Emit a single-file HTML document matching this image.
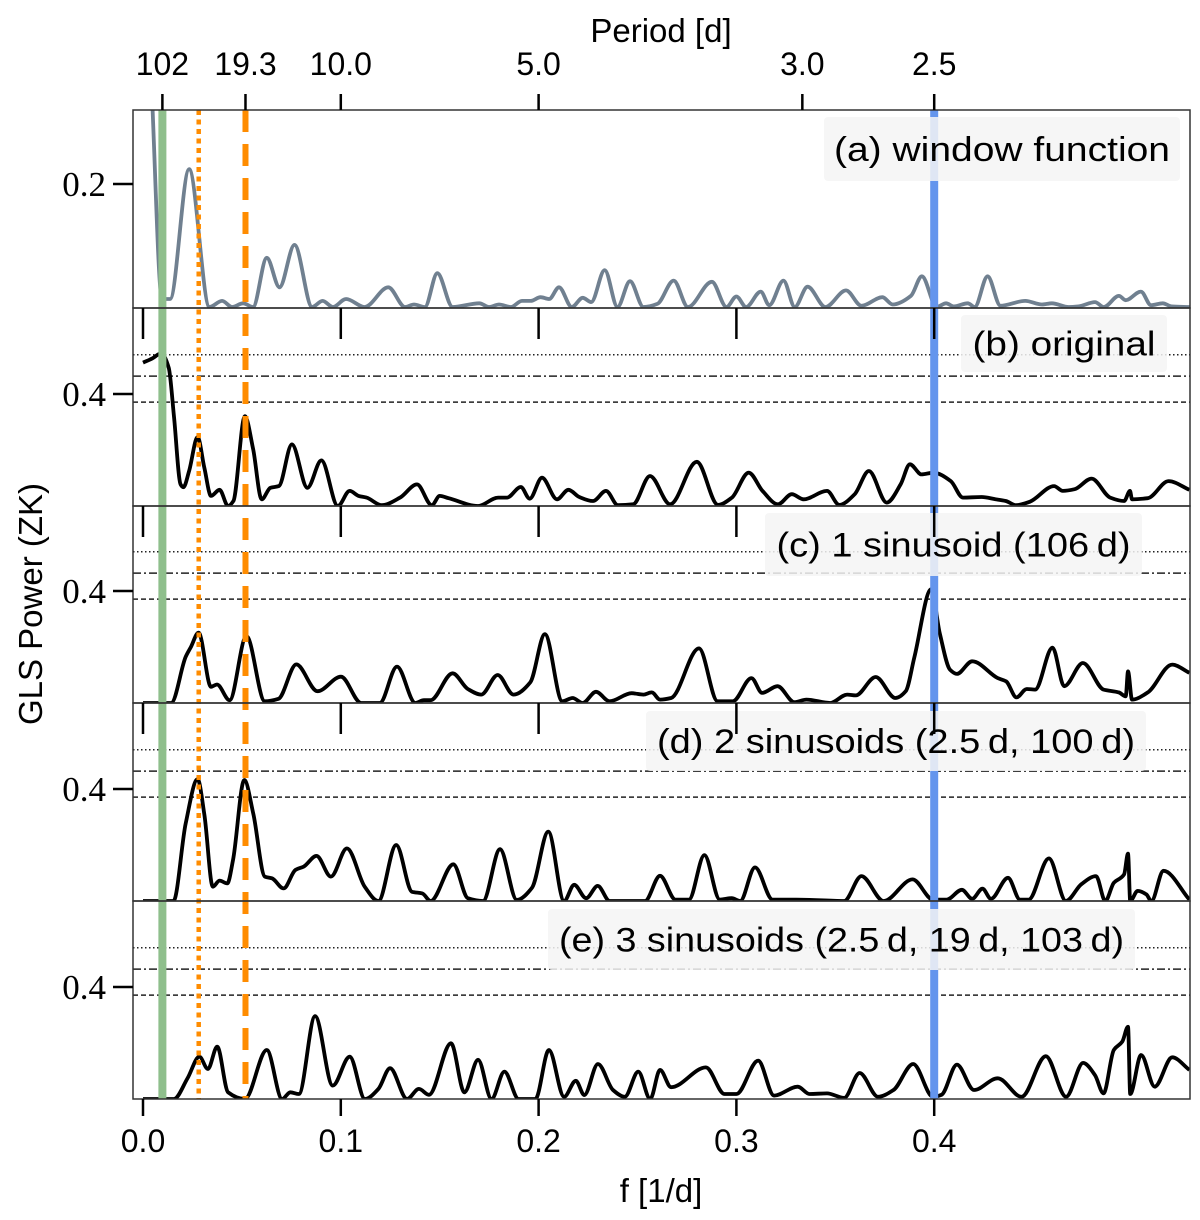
<!DOCTYPE html>
<html><head><meta charset="utf-8"><style>
html,body{margin:0;padding:0;background:#fff;}
svg{display:block;}
text{font-family:"Liberation Sans","DejaVu Sans",sans-serif;fill:#000;}
.serif{font-family:"Liberation Serif",serif;}
</style></head><body>
<svg id="chart" width="1200" height="1220" viewBox="0 0 1200 1220" xmlns="http://www.w3.org/2000/svg">
<defs>
<clipPath id="clip0"><rect x="133" y="110" width="1057" height="198"/></clipPath>
<clipPath id="clip1"><rect x="133" y="308" width="1057" height="198"/></clipPath>
<clipPath id="clip2"><rect x="133" y="506" width="1057" height="197"/></clipPath>
<clipPath id="clip3"><rect x="133" y="703" width="1057" height="198"/></clipPath>
<clipPath id="clip4"><rect x="133" y="901" width="1057" height="198"/></clipPath>
</defs>
<g id="layer-hlines"></g>
<g id="layer-curves"></g>
<g id="layer-vlines"></g>
<g id="layer-legends"></g>
<g id="layer-axes"></g>
</svg>
<script>
// ---------- data ----------
const aF=[0.002,0.0046,0.0096,0.0137,0.0233,0.0336,0.040,0.045,0.0506,0.0556,0.0626,0.069,0.0766,0.0855,0.0908,0.096,0.1027,0.112,0.124,0.1325,0.137,0.1425,0.1488,0.1565,0.170,0.175,0.180,0.186,0.1916,0.196,0.201,0.2053,0.2103,0.2168,0.2223,0.2266,0.2334,0.2399,0.2462,0.253,0.260,0.2683,0.2755,0.2876,0.295,0.300,0.3049,0.3123,0.3166,0.3238,0.3295,0.336,0.345,0.3554,0.3632,0.3738,0.379,0.3882,0.3938,0.4012,0.406,0.410,0.417,0.4205,0.427,0.4335,0.446,0.4545,0.4595,0.468,0.473,0.4813,0.4857,0.4934,0.4968,0.5045,0.5096,0.5155,0.520,0.529];
const aP=[0.55,0.34,0.013,0.013,0.224,0.0,0.01,0.0,0.006,0.0,0.08,0.032,0.101,0.0,0.01,0.0,0.013,0.0,0.032,0.0,0.004,0.0,0.055,0.0,0.006,0.0,0.004,0.0,0.01,0.01,0.016,0.013,0.032,0.0,0.015,0.008,0.06,0.0,0.042,0.0,0.005,0.043,0.0,0.041,0.0,0.017,0.0,0.025,0.003,0.043,0.0,0.033,0.0,0.027,0.002,0.016,0.004,0.018,0.05,0.0,0.006,0.001,0.006,0.0,0.05,0.002,0.01,0.004,0.006,0.0,0.001,0.008,0.0,0.018,0.011,0.025,0.003,0.006,0.001,0.0];

const bF=[0,0.0047,0.0092,0.013,0.0157,0.019,0.0204,0.0233,0.0276,0.031,0.0344,0.0387,0.043,0.0457,0.0515,0.0557,0.060,0.0644,0.0687,0.0753,0.0831,0.0902,0.0985,0.1045,0.109,0.113,0.1207,0.130,0.1385,0.146,0.150,0.1545,0.1694,0.1795,0.184,0.191,0.1955,0.2017,0.2093,0.2151,0.2206,0.2275,0.2341,0.2401,0.2478,0.2563,0.2665,0.28,0.2907,0.2977,0.3062,0.3132,0.321,0.328,0.334,0.3458,0.352,0.3598,0.367,0.376,0.383,0.3877,0.3936,0.3996,0.4084,0.4145,0.424,0.431,0.4362,0.4414,0.4483,0.4606,0.465,0.471,0.4796,0.489,0.496,0.499,0.5,0.508,0.5185,0.529];
const bP=[0.512,0.527,0.545,0.494,0.315,0.077,0.067,0.125,0.246,0.137,0.036,0.058,0.0,0.018,0.321,0.202,0.024,0.065,0.071,0.22,0.065,0.163,0.0,0.054,0.036,0.03,0.003,0.03,0.077,0.003,0.036,0.028,0.0,0.03,0.03,0.068,0.026,0.101,0.024,0.058,0.032,0.018,0.054,0.003,0.006,0.107,0.006,0.158,0.004,0.03,0.119,0.054,0.006,0.042,0.024,0.054,0.004,0.042,0.125,0.012,0.077,0.149,0.113,0.119,0.089,0.03,0.032,0.024,0.018,0.003,0.015,0.071,0.054,0.06,0.098,0.03,0.018,0.054,0.024,0.028,0.089,0.058];

const cF=[0,0.0142,0.0216,0.0242,0.0281,0.0344,0.0374,0.0438,0.0523,0.0616,0.0685,0.0775,0.0882,0.1001,0.1103,0.1197,0.1284,0.1377,0.142,0.1454,0.1565,0.1642,0.171,0.1793,0.1873,0.1958,0.2032,0.212,0.2172,0.2223,0.229,0.2359,0.247,0.253,0.2572,0.2614,0.267,0.2811,0.2905,0.2982,0.3076,0.313,0.3208,0.3293,0.3354,0.3474,0.356,0.3603,0.3704,0.3804,0.3856,0.3899,0.3985,0.4028,0.408,0.4115,0.4192,0.4321,0.4364,0.4416,0.4468,0.451,0.4598,0.4657,0.4752,0.4856,0.4933,0.4968,0.498,0.5,0.508,0.5203,0.529];
const cP=[0,0,0.165,0.2,0.251,0.058,0.066,0.01,0.239,0.006,0.015,0.138,0.042,0.094,0.0,0.0,0.13,0.0,0.01,0.01,0.106,0.05,0.03,0.1,0.03,0.074,0.246,0.006,0.018,0.0,0.04,0.006,0.035,0.03,0.038,0.012,0.018,0.195,0.006,0.006,0.089,0.036,0.06,0.003,0.012,0.0,0.03,0.027,0.093,0.018,0.042,0.161,0.406,0.25,0.119,0.104,0.149,0.089,0.077,0.02,0.05,0.048,0.198,0.06,0.143,0.048,0.038,0.024,0.113,0.012,0.038,0.137,0.108];

const dF=[0,0.0154,0.0216,0.0276,0.031,0.0353,0.0387,0.0426,0.0455,0.0512,0.0558,0.0616,0.0652,0.0711,0.0771,0.0813,0.0877,0.095,0.1031,0.1121,0.119,0.128,0.136,0.1412,0.1454,0.1569,0.1642,0.1719,0.1805,0.189,0.1967,0.2049,0.2129,0.218,0.224,0.2299,0.2359,0.2538,0.2614,0.2692,0.276,0.2838,0.2916,0.2976,0.3019,0.3094,0.3183,0.3303,0.3545,0.3632,0.3744,0.3891,0.3994,0.4063,0.414,0.4192,0.4244,0.4287,0.4373,0.4434,0.4477,0.458,0.4666,0.4744,0.4818,0.4865,0.4908,0.496,0.498,0.4991,0.5029,0.5072,0.5098,0.5159,0.529];
const dP=[0,0,0.277,0.435,0.31,0.051,0.073,0.063,0.146,0.432,0.31,0.087,0.081,0.045,0.111,0.123,0.161,0.087,0.188,0.051,0.0,0.2,0.033,0.027,0.0,0.131,0.01,0.0,0.185,0.004,0.048,0.248,0.0,0.058,0.01,0.054,0.0,0.0,0.09,0.005,0.005,0.164,0.005,0.01,0.0,0.12,0.005,0.005,0.0,0.089,0.0,0.077,0.005,0.005,0.04,0.008,0.044,0.008,0.083,0.005,0.005,0.152,0.0,0.06,0.089,0.0,0.065,0.095,0.169,0.0,0.036,0.024,0.0,0.108,0.005];

const eF=[0,0.0156,0.0225,0.0285,0.0328,0.0375,0.043,0.0515,0.0626,0.0703,0.0745,0.0788,0.087,0.0959,0.1045,0.1122,0.119,0.1249,0.1335,0.1395,0.1446,0.1557,0.1625,0.1694,0.1762,0.1827,0.1899,0.1984,0.2052,0.2129,0.2188,0.2231,0.23,0.2376,0.2436,0.2504,0.2564,0.2614,0.267,0.2846,0.294,0.300,0.311,0.319,0.331,0.337,0.3458,0.3545,0.3623,0.3716,0.3794,0.3894,0.3994,0.4037,0.4115,0.4201,0.4321,0.4442,0.4564,0.4667,0.4753,0.4813,0.4856,0.4908,0.4951,0.498,0.4991,0.5046,0.5115,0.5203,0.529];
const eP=[0,0,0.074,0.151,0.107,0.187,0.024,0.0,0.175,0.0,0.024,0.018,0.296,0.048,0.151,0.0,0.036,0.11,0.0,0.036,0.015,0.199,0.024,0.14,0.0,0.098,0.0,0.0,0.175,0.008,0.065,0.014,0.125,0.032,0.008,0.098,0.0,0.104,0.042,0.113,0.018,0.018,0.137,0.012,0.044,0.018,0.02,0.004,0.093,0.008,0.032,0.125,0.008,0.015,0.123,0.032,0.074,0.008,0.153,0.008,0.129,0.085,0.02,0.175,0.205,0.258,0.018,0.157,0.044,0.149,0.104];

const fapLevels=[0.54,0.464,0.371];
const bottomTicks=[0,0.1,0.2,0.3,0.4];
const bottomLabels=["0.0","0.1","0.2","0.3","0.4"];
const periodTicks=[102,19.3,10.0,5.0,3.0,2.5];
const periodLabels=["102","19.3","10.0","5.0","3.0","2.5"];
const markerGreen=1/102, markerDotted=1/35.5, markerDashed=1/19.3, markerBlue=0.4;

// ---------- scales ----------
const X0=143, XS=1978, LEFT=133, RIGHT=1190;
function xs(f){return X0+f*XS;}
const panelTops=[110,308,506,703,901];
const panelBottoms=[308,506,703,901,1099];
function yA(v){return 307-v*615;}
function yP(i,v){return panelBottoms[i]-v*280;}

const NS="http://www.w3.org/2000/svg";
function mk(tag,attrs,parent){const e=document.createElementNS(NS,tag);for(const k in attrs)e.setAttribute(k,attrs[k]);parent.appendChild(e);return e;}
// monotone cubic (Fritsch-Carlson) – no overshoot
function smooth(pts){
  const n=pts.length, dx=[], s=[], m=[];
  for(let i=0;i<n-1;i++){dx[i]=pts[i+1][0]-pts[i][0];s[i]=(pts[i+1][1]-pts[i][1])/dx[i];}
  m[0]=s[0];m[n-1]=s[n-2];
  for(let i=1;i<n-1;i++){
    if(s[i-1]*s[i]<=0)m[i]=0;
    else{const w1=2*dx[i]+dx[i-1],w2=dx[i]+2*dx[i-1];m[i]=(w1+w2)/(w1/s[i-1]+w2/s[i]);}
  }
  let d="M"+pts[0][0].toFixed(1)+","+pts[0][1].toFixed(1);
  for(let i=0;i<n-1;i++){
    const h=dx[i]/3;
    d+=" C"+(pts[i][0]+h).toFixed(1)+","+(pts[i][1]+m[i]*h).toFixed(1)+" "+(pts[i+1][0]-h).toFixed(1)+","+(pts[i+1][1]-m[i+1]*h).toFixed(1)+" "+pts[i+1][0].toFixed(1)+","+pts[i+1][1].toFixed(1);
  }
  return d;
}
const gH=document.getElementById('layer-hlines');
const gC=document.getElementById('layer-curves');
const gV=document.getElementById('layer-vlines');
const gL=document.getElementById('layer-legends');
const gX=document.getElementById('layer-axes');

// horizontal FAP lines
const dashes=["1.5,2.5","8,3,2,3","5,3"];
for(let i=1;i<5;i++){
  fapLevels.forEach((lv,j)=>{
    const l=mk('line',{x1:LEFT,x2:RIGHT,y1:yP(i,lv),y2:yP(i,lv),stroke:'#222','stroke-width':1.5,'stroke-dasharray':dashes[j]},gH);
    
    
  });
}

// curves
function curve(F,P,yfn,color,clip,name){
  const pts=F.map((f,k)=>[xs(f),yfn(P[k])]);
  const p=mk('path',{d:smooth(pts),fill:'none',stroke:color,'stroke-width':3.8,'stroke-linejoin':'round','clip-path':clip},gC);
  
  
}
curve(aF,aP,yA,'#708090','url(#clip0)','window-function-curve');
curve(bF,bP,v=>yP(1,v),'#000','url(#clip1)','original-periodogram-curve');
curve(cF,cP,v=>yP(2,v),'#000','url(#clip2)','one-sinusoid-residual-curve');
curve(dF,dP,v=>yP(3,v),'#000','url(#clip3)','two-sinusoid-residual-curve');
curve(eF,eP,v=>yP(4,v),'#000','url(#clip4)','three-sinusoid-residual-curve');

// vertical markers
function vline(f,color,w,dash,name){
  const a={x1:xs(f),x2:xs(f),y1:110,y2:1099,stroke:color,'stroke-width':w};
  if(dash)a['stroke-dasharray']=dash;
  const l=mk('line',a,gV);
  
  
}
vline(markerGreen,'#8fbf8c',8,null,'marker-102d');
vline(markerDotted,'#ff8c00',4.5,'5,4.5','marker-35d-alias');
vline(markerDashed,'#ff8c00',6,'22,12','marker-19d');
vline(markerBlue,'#6495ed',8,null,'marker-2-5d');

// legends
const legends=[
  {t:"(a) window function",x:824,y:117,w:356,h:64,tl:336,name:'legend-window-function'},
  {t:"(b) original",x:961,y:315,w:206,h:57,tl:183,name:'legend-original'},
  {t:"(c) 1 sinusoid (106\u2009d)",x:765,y:513,w:377,h:63,tl:354,name:'legend-one-sinusoid'},
  {t:"(d) 2 sinusoids (2.5\u2009d, 100\u2009d)",x:646,y:711,w:500,h:60,tl:478,name:'legend-two-sinusoids'},
  {t:"(e) 3 sinusoids (2.5\u2009d, 19\u2009d, 103\u2009d)",x:548,y:909,w:587,h:61,tl:565,name:'legend-three-sinusoids'}
];
legends.forEach(L=>{
  const g=mk('g',{},gL);
  
  
  mk('rect',{x:L.x,y:L.y,width:L.w,height:L.h,rx:4,fill:'#f5f5f5','fill-opacity':0.85},g);
  const t=mk('text',{x:L.x+L.w/2,y:L.y+L.h/2+12,'text-anchor':'middle','font-size':34,textLength:L.tl,lengthAdjust:'spacingAndGlyphs'},g);
  t.textContent=L.t;
});

// frames
for(let i=0;i<5;i++){
  const r=mk('rect',{x:LEFT,y:panelTops[i],width:RIGHT-LEFT,height:panelBottoms[i]-panelTops[i],fill:'none',stroke:'#333','stroke-width':1.5},gX);
  
  
}
// inner top ticks of panels b,c,d
for(let i=1;i<4;i++){
  bottomTicks.forEach(f=>{
    const l=mk('line',{x1:xs(f),x2:xs(f),y1:panelTops[i],y2:panelTops[i]+31,stroke:'#000','stroke-width':2.5},gX);
    
    
  });
}
// bottom axis
bottomTicks.forEach((f,k)=>{
  const l=mk('line',{x1:xs(f),x2:xs(f),y1:1099,y2:1116,stroke:'#000','stroke-width':2.5},gX);
  
  
  const t=mk('text',{x:xs(f),y:1152,'text-anchor':'middle','font-size':32},gX);
  
  
  t.textContent=bottomLabels[k];
});
// top period axis
periodTicks.forEach((p,k)=>{
  const x=xs(1/p);
  const l=mk('line',{x1:x,x2:x,y1:94,y2:110,stroke:'#000','stroke-width':2.5},gX);
  
  
  const t=mk('text',{x:x,y:75,'text-anchor':'middle','font-size':32},gX);
  
  
  t.textContent=periodLabels[k];
});
// y ticks
function ytick(y,label){
  const l=mk('line',{x1:113,x2:LEFT,y1:y,y2:y,stroke:'#000','stroke-width':2.5},gX);
  
  
  const t=mk('text',{x:106,y:y+12,'text-anchor':'end','font-size':35,'class':'serif'},gX);
  
  
  t.textContent=label;
}
ytick(yA(0.2),"0.2");
for(let i=1;i<5;i++) ytick(yP(i,0.4),"0.4");
</script>
<script>
(function(){
  const svg=document.getElementById('chart');
  const NS="http://www.w3.org/2000/svg";
  const t1=document.createElementNS(NS,'text');
  t1.setAttribute('x',661);t1.setAttribute('y',42);t1.setAttribute('text-anchor','middle');t1.setAttribute('font-size',33);
  
  
  t1.textContent='Period [d]';svg.appendChild(t1);
  const t2=document.createElementNS(NS,'text');
  t2.setAttribute('x',661);t2.setAttribute('y',1202);t2.setAttribute('text-anchor','middle');t2.setAttribute('font-size',33);
  
  
  t2.textContent='f [1/d]';svg.appendChild(t2);
  const t3=document.createElementNS(NS,'text');
  t3.setAttribute('transform','translate(42,604) rotate(-90)');t3.setAttribute('text-anchor','middle');t3.setAttribute('font-size',33);
  
  
  t3.textContent='GLS Power (ZK)';svg.appendChild(t3);
})();
</script>
</body></html>
